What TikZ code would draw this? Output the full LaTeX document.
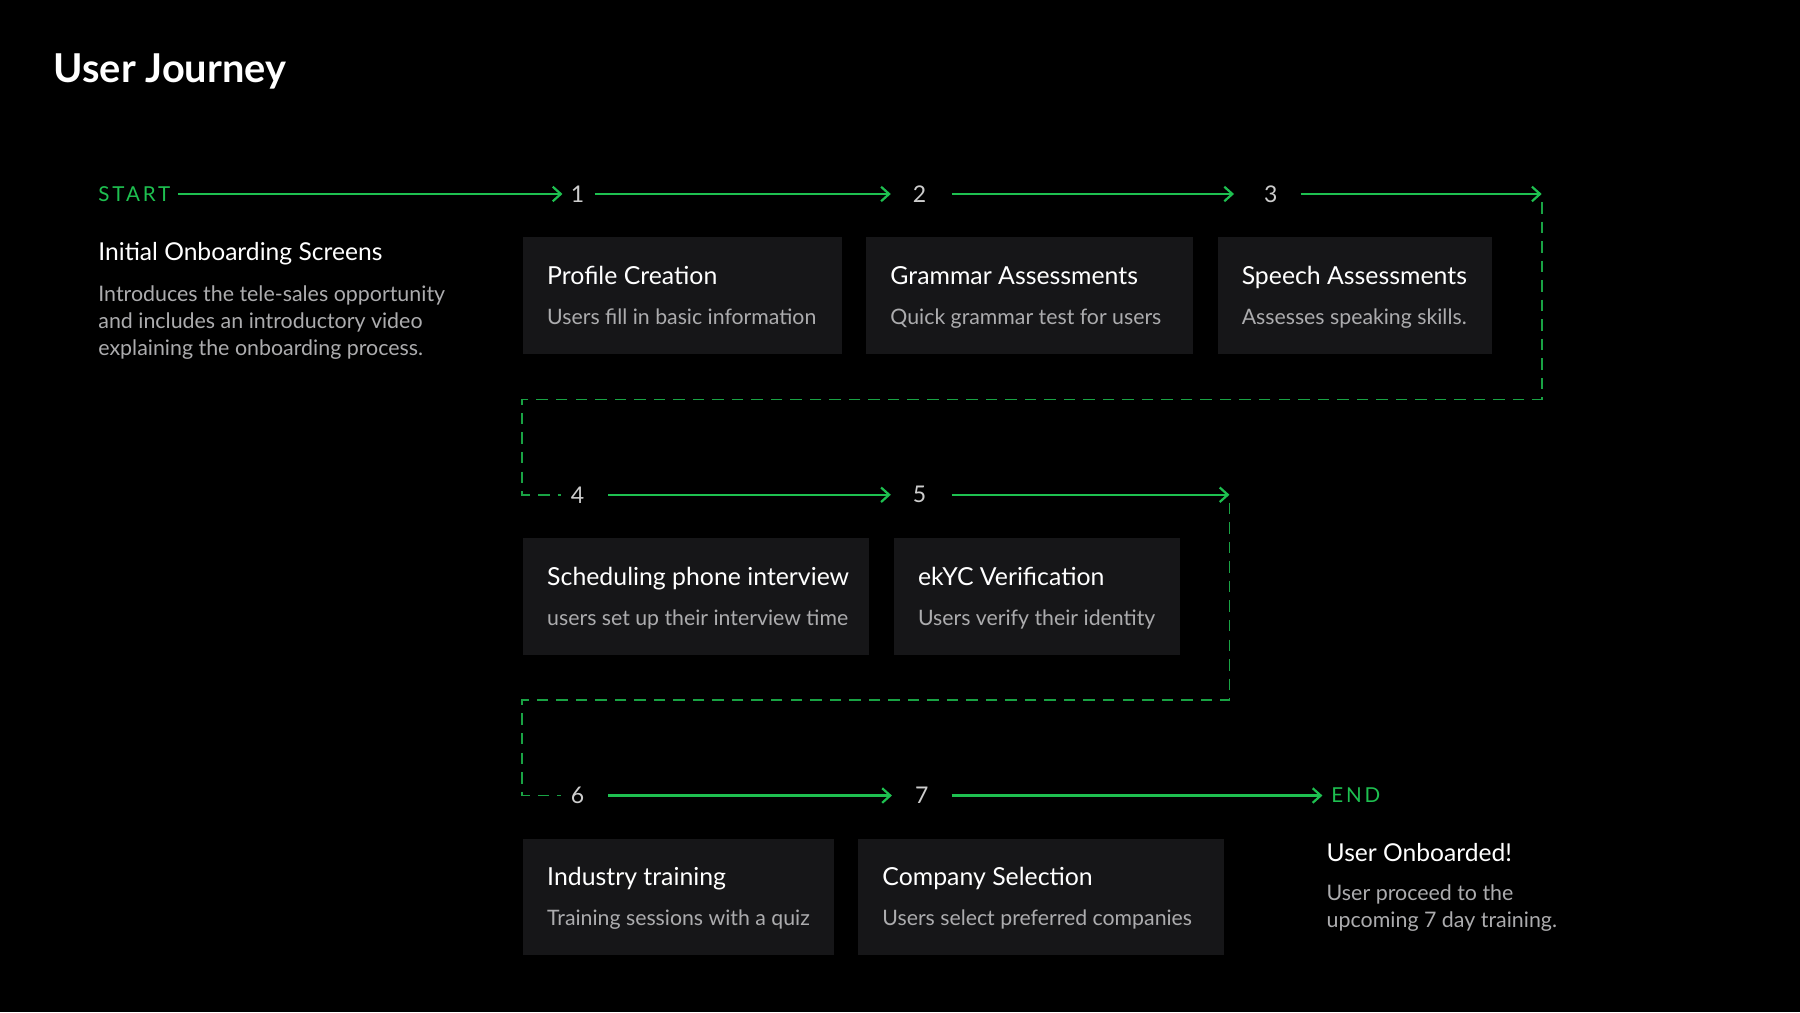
\documentclass[tikz,border=0pt]{standalone}
\usepackage{fontspec}
\setmainfont{Lato}
\usetikzlibrary{arrows.meta,calc}
\definecolor{grn}{RGB}{30,192,80}
\definecolor{boxc}{RGB}{22,22,24}
\definecolor{subc}{RGB}{172,172,174}
\definecolor{numc}{RGB}{205,205,205}
\begin{document}
\begin{tikzpicture}[x=0.01cm,y=-0.01cm,
  flow/.style={draw=grn,line width=0.55pt,-{Straight Barb[length=2pt,width=3.6pt,line width=0.55pt]}},
  dline/.style={draw=grn!85!black,line width=0.45pt,dash pattern=on 0.1cm off 0.07cm},
  card/.style={fill=boxc,draw=none,anchor=north west,inner sep=0pt},
  ttl/.style={anchor=base west,inner sep=0pt,text=white,font=\fontsize{6.15pt}{7.5pt}\selectfont},
  sub/.style={anchor=base west,inner sep=0pt,text=subc,font=\fontsize{5.27pt}{6.5pt}\selectfont},
  num/.style={inner sep=0pt,text=numc,font=\fontsize{5.7pt}{7pt}\selectfont},
  term/.style={inner sep=0pt,text=grn,font=\fontsize{5.1pt}{6pt}\selectfont\addfontfeatures{LetterSpace=14}},
  desc/.style={anchor=north west,inner sep=0pt,text=subc,align=left,font=\fontsize{5.3pt}{6.7pt}\selectfont}]
\fill[black] (0,0) rectangle (1568,882);
\useasboundingbox (0,0) rectangle (1568,882);

% title
\node[anchor=west,inner sep=0pt,text=white,font=\fontsize{9.85pt}{11pt}\selectfont\bfseries] (title) at (46,62) {User Journey};

% cards row 1
\node[card,minimum width=2.78cm,minimum height=1.02cm] (b1) at (455,206) {};
\node[card,minimum width=2.84cm,minimum height=1.02cm] (b2) at (754,206) {};
\node[card,minimum width=2.39cm,minimum height=1.02cm] (b3) at (1060,206) {};
% cards row 2
\node[card,minimum width=3.01cm,minimum height=1.02cm] (b4) at (455,468) {};
\node[card,minimum width=2.49cm,minimum height=1.02cm] (b5) at (778,468) {};
% cards row 3
\node[card,minimum width=2.71cm,minimum height=1.01cm] (b6) at (455,730) {};
\node[card,minimum width=3.18cm,minimum height=1.01cm] (b7) at (747,730) {};

% row 1 markers
\node[term,anchor=west] (start) at (85,169) {START};
\node[num] (n1) at (503,169) {1};
\node[num] (n2) at (801,169) {2};
\node[num] (n3) at (1107,169) {3};
\coordinate (e1) at (1343,169);
% row 2
\node[num] (n4) at (503,431) {4};
\node[num] (n5) at (801,431) {5};
\coordinate (e2) at (1071,431);
% row 3
\node[num] (n6) at (503,693) {6};
\node[num] (n7) at (803,693) {7};
\node[term,anchor=west] (end) at (1159,693) {END};

\coordinate (k1) at (455,348);
\coordinate (k2) at (455,610);

% arrows
\draw[flow,shorten <=0.06cm] (start.east) -- ([xshift=-0.13cm]n1.center);
\draw[flow] ([xshift=0.15cm]n1.center) -- ([xshift=-0.25cm]n2.center);
\draw[flow] ([xshift=0.28cm]n2.center) -- ([xshift=-0.32cm]n3.center);
\draw[flow] ([xshift=0.26cm]n3.center) -- (e1);
\draw[flow] ([xshift=0.27cm]n4.center) -- ([xshift=-0.25cm]n5.center);
\draw[flow] ([xshift=0.28cm]n5.center) -- (e2);
\draw[flow] ([xshift=0.27cm]n6.center) -- ([xshift=-0.26cm]n7.center);
\draw[flow] ([xshift=0.26cm]n7.center) -- ([xshift=-0.07cm]end.west);

% dashed returns
\draw[dline] ([yshift=-0.07cm]e1) |- (k1) |- ([xshift=-0.14cm]n4.center);
\draw[dline] ([yshift=-0.07cm]e2) |- (k2) |- ([xshift=-0.14cm]n6.center);

% left intro
\node[anchor=west,inner sep=0pt,text=white,font=\fontsize{6.1pt}{7.5pt}\selectfont] (introT) at (85,221) {Initial Onboarding Screens};
\node[desc] (introD) at (85,248) {Introduces the tele-sales opportunity\\and includes an introductory video\\explaining the onboarding process.};

\node[ttl] (t1) at ($(b1.north west)+(21,42)$) {Profile Creation};
\node[sub] (s1) at ($(b1.north west)+(21,77)$) {Users fill in basic information};
\node[ttl] (t2) at ($(b2.north west)+(21,42)$) {Grammar Assessments};
\node[sub] (s2) at ($(b2.north west)+(21,77)$) {Quick grammar test for users};
\node[ttl] (t3) at ($(b3.north west)+(21,42)$) {Speech Assessments};
\node[sub] (s3) at ($(b3.north west)+(21,77)$) {Assesses speaking skills.};
\node[ttl] (t4) at ($(b4.north west)+(21,42)$) {Scheduling phone interview};
\node[sub] (s4) at ($(b4.north west)+(21,77)$) {users set up their interview time};
\node[ttl] (t5) at ($(b5.north west)+(21,42)$) {ekYC Verification};
\node[sub] (s5) at ($(b5.north west)+(21,77)$) {Users verify their identity};
\node[ttl] (t6) at ($(b6.north west)+(21,41)$) {Industry training};
\node[sub] (s6) at ($(b6.north west)+(21,76)$) {Training sessions with a quiz};
\node[ttl] (t7) at ($(b7.north west)+(21,41)$) {Company Selection};
\node[sub] (s7) at ($(b7.north west)+(21,76)$) {Users select preferred companies};

% end text
\node[anchor=west,inner sep=0pt,text=white,font=\fontsize{6.1pt}{7.5pt}\selectfont] (endT) at (1155,743) {User Onboarded!};
\node[desc] (endD) at (1155,770) {User proceed to the\\upcoming 7 day training.};
\end{tikzpicture}
\end{document}
